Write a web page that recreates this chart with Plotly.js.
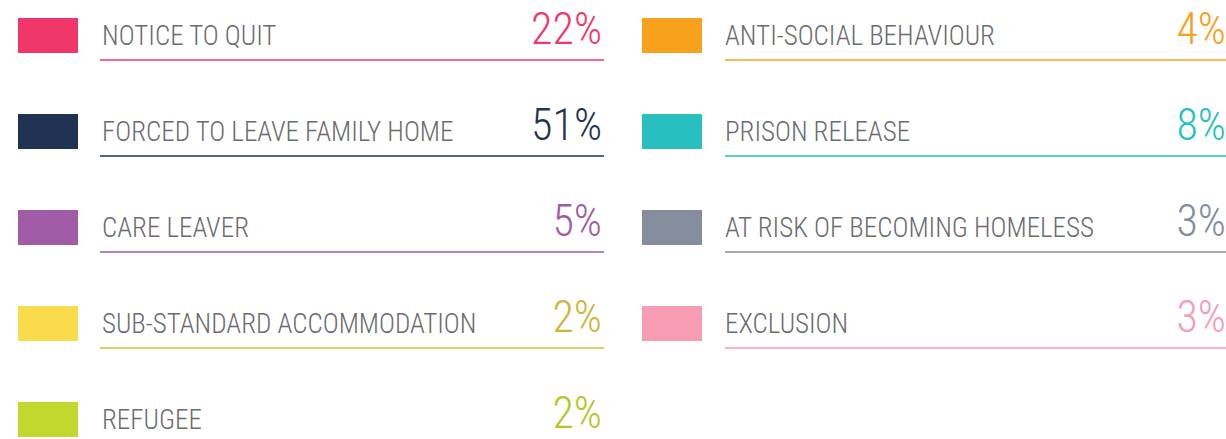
<!DOCTYPE html>
<html>
<head>
<meta charset="utf-8">
<script src="https://cdn.plot.ly/plotly-3.0.1.min.js"></script>
<style>html,body{margin:0;padding:0;background:#fff;}#chart{width:1226px;height:439px;}</style>
</head>
<body>
<div id="chart"></div>
<script>
// Data
const categories = ["NOTICE TO QUIT","FORCED TO LEAVE FAMILY HOME","CARE LEAVER","SUB-STANDARD ACCOMMODATION","REFUGEE",
                    "ANTI-SOCIAL BEHAVIOUR","PRISON RELEASE","AT RISK OF BECOMING HOMELESS","EXCLUSION"];
const values = [22, 51, 5, 2, 2, 4, 8, 3, 3];
const swatchColors = ["#F0376A","#1F3352","#A05BA6","#FADB4B","#C2D82F","#F7A11C","#27BFBF","#838D9C","#F79CB3"];
const valueColors  = ["#F0376A","#1F3352","#A05BA6","#CDB63A","#B2C72C","#F7A11C","#27BFBF","#838D9C","#F79CB3"];
const lineColors   = ["#F0376A","#1F3352","#A05BA6","#D4BE3A","#C2D82F","#F7A11C","#27BFBF","#838D9C","#F79CB3"];

// Layout geometry (pixels)
const rowsPerCol = 5;
const colX = [{sw0:18, sw1:78, tx:102, ln0:100, ln1:604, vx:602},
              {sw0:642, sw1:702, tx:725, ln0:725, ln1:1226, vx:1226}];
const rowTop = 18, rowPitch = 96, swH = 35;

const shapes = [];
const labX=[], labY=[], valX=[], valY=[];
categories.forEach((c,i)=>{
  const col = colX[Math.floor(i/rowsPerCol)];
  const r = i % rowsPerCol;
  const top = rowTop + r*rowPitch;
  shapes.push({type:'rect', xref:'x', yref:'y', x0:col.sw0, x1:col.sw1, y0:top, y1:top+swH,
               fillcolor:swatchColors[i], line:{width:0}});
  if (i !== 4) {
    shapes.push({type:'line', xref:'x', yref:'y', x0:col.ln0, x1:col.ln1, y0:top+42, y1:top+42,
                 line:{color:lineColors[i], width:1.5}});
  }
  labX.push(col.tx); labY.push(top+20);
  valX.push(col.vx); valY.push(top+15);
});

const labelFont = "'Roboto Condensed','Liberation Sans Narrow','DejaVu Sans Condensed','Arial Narrow',sans-serif";
const traces = [
  {type:'scatter', mode:'text', x:labX, y:labY, text:categories, textposition:'middle right',
   textfont:{family:labelFont, size:27, weight:300, color:'#6A6B6E'}, hoverinfo:'skip', showlegend:false},
  {type:'scatter', mode:'text', x:valX, y:valY, text:values.map(v=>v+'%'), textposition:'middle left',
   textfont:{family:labelFont, size:44, weight:300, color:valueColors}, hoverinfo:'skip', showlegend:false}
];

const layout = {
  width:1226, height:439, margin:{l:0,r:0,t:0,b:0},
  paper_bgcolor:'#fff', plot_bgcolor:'#fff',
  xaxis:{range:[0,1226], visible:false, fixedrange:true},
  yaxis:{range:[439,0], visible:false, fixedrange:true},
  shapes:shapes, showlegend:false
};
Plotly.newPlot('chart', traces, layout, {staticPlot:true, displayModeBar:false});
</script>
</body>
</html>
